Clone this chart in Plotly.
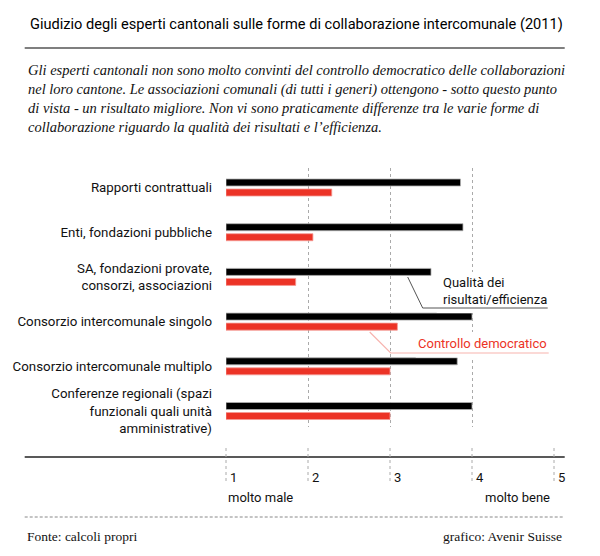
import plotly.graph_objects as go

categories = [
    "Rapporti contrattuali",
    "Enti, fondazioni pubbliche",
    "SA, fondazioni provate,<br>consorzi, associazioni",
    "Consorzio intercomunale singolo",
    "Consorzio intercomunale multiplo",
    "Conferenze regionali (spazi<br>funzionali quali unità<br>amministrative)",
]
qualita = [3.86, 3.89, 3.50, 4.00, 3.82, 4.00]
controllo = [2.29, 2.06, 1.85, 3.09, 3.00, 3.00]
tick_vals = [1, 2, 3, 4, 5]
tick_text = ["1", "2", "3", "4", "5"]

W, H = 600, 556
L, R, T, B = 226.3, 45.7, 168, 129
XMIN, XMAX = 1, 5

COND = "Roboto, Liberation Sans, sans-serif"
SERIF = "Liberation Serif, DejaVu Serif, serif"
BLACK = "#000000"
RED = "#ec3326"

def px(xp):
    return (xp - L) / (W - L - R)

def py(yp):
    return (H - B - yp) / (H - T - B)

def vx(v):
    return (v - XMIN) / (XMAX - XMIN)

idx = list(range(len(categories)))
fig = go.Figure()
fig.add_trace(go.Bar(
    y=idx, x=[v - XMIN for v in qualita], base=XMIN, orientation="h",
    width=0.157, offset=-0.19, name="Qualità dei risultati/efficienza",
    marker=dict(color=BLACK, line=dict(color="#b0b0b0", width=0.8)),
))
fig.add_trace(go.Bar(
    y=idx, x=[v - XMIN for v in controllo], base=XMIN, orientation="h",
    width=0.157, offset=0.034, name="Controllo democratico",
    marker=dict(color=RED, line=dict(color="#f59a94", width=0.8)),
))

shapes = []
shapes.append(dict(type="line", xref="paper", yref="paper", x0=px(25), x1=px(565),
                   y0=py(48), y1=py(48), line=dict(color="#555555", width=1.5)))
shapes.append(dict(type="line", xref="paper", yref="paper", x0=px(25), x1=px(565),
                   y0=py(457), y1=py(457), line=dict(color="#222222", width=1.5)))
shapes.append(dict(type="line", xref="paper", yref="paper", x0=px(25), x1=px(565),
                   y0=py(517), y1=py(517), line=dict(color="#888888", width=1, dash="3px,2px")))
for v in tick_vals:
    shapes.append(dict(type="line", xref="paper", yref="paper", x0=vx(v), x1=vx(v),
                       y0=py(448), y1=py(482), line=dict(color="#aaaaaa", width=1, dash="3px,3px")))
# white boxes behind the legend labels (mask gridlines)
shapes.append(dict(type="rect", xref="paper", yref="paper", x0=px(437), x1=px(558),
                   y0=py(313), y1=py(272), fillcolor="white", line=dict(width=0)))
shapes.append(dict(type="rect", xref="paper", yref="paper", x0=px(416), x1=px(558),
                   y0=py(357.5), y1=py(332), fillcolor="white", line=dict(width=0)))
shapes.append(dict(type="path", xref="paper", yref="paper",
                   path=f"M {px(408)} {py(277)} L {px(423)} {py(308)} L {px(548)} {py(308)}",
                   line=dict(color="#555555", width=1)))
shapes.append(dict(type="path", xref="paper", yref="paper",
                   path=f"M {px(370)} {py(332)} L {px(391)} {py(353)} L {px(549)} {py(353)}",
                   line=dict(color="#f7b3ae", width=1.2)))

ann = []
ann.append(dict(text="Giudizio degli esperti cantonali sulle forme di collaborazione intercomunale (2011)",
                xref="paper", yref="paper", x=px(28), y=py(24), xanchor="left", yanchor="middle",
                showarrow=False, font=dict(family=COND, size=14.6, color="#000")))
ann.append(dict(text=("<i>Gli esperti cantonali non sono molto convinti del controllo democratico delle collaborazioni<br>"
                      "nel loro cantone. Le associazioni comunali (di tutti i generi) ottengono - sotto questo punto<br>"
                      "di vista - un risultato migliore. Non vi sono praticamente differenze tra le varie forme di<br>"
                      "collaborazione riguardo la qualità dei risultati e l’efficienza.</i>"),
                xref="paper", yref="paper", x=px(26), y=py(60), xanchor="left", yanchor="top", align="left",
                showarrow=False, font=dict(family=SERIF, size=14.5, color="#111"),
                ))
for v, t in zip(tick_vals, tick_text):
    ann.append(dict(text=t, xref="paper", yref="paper", x=vx(v), y=py(477), xanchor="left",
                    yanchor="middle", xshift=2, showarrow=False,
                    font=dict(family=COND, size=13, color="#111")))
ann.append(dict(text="molto male", xref="paper", yref="paper", x=vx(1), y=py(497), xanchor="left",
                yanchor="middle", showarrow=False, font=dict(family=COND, size=13, color="#111")))
ann.append(dict(text="molto bene", xref="paper", yref="paper", x=px(552), y=py(497), xanchor="right",
                yanchor="middle", showarrow=False, font=dict(family=COND, size=13, color="#111")))
ann.append(dict(text="Qualità dei<br>risultati/efficienza", xref="paper", yref="paper", x=px(441),
                y=py(291), xanchor="left", yanchor="middle", align="left", showarrow=False,
                font=dict(family=COND, size=13, color="#111")))
ann.append(dict(text="Controllo democratico", xref="paper", yref="paper", x=px(549),
                y=py(343), xanchor="right", yanchor="middle", showarrow=False,
                font=dict(family=COND, size=13, color=RED)))
ann.append(dict(text="Fonte: calcoli propri", xref="paper", yref="paper", x=px(25), y=py(536),
                xanchor="left", yanchor="middle", showarrow=False,
                font=dict(family=SERIF, size=13.5, color="#111")))
ann.append(dict(text="grafico: Avenir Suisse", xref="paper", yref="paper", x=px(564), y=py(536),
                xanchor="right", yanchor="middle", showarrow=False,
                font=dict(family=SERIF, size=13.5, color="#111")))

fig.update_layout(
    width=W, height=H, margin=dict(l=L, r=R, t=T, b=B, pad=0, autoexpand=False),
    paper_bgcolor="white", plot_bgcolor="white",
    showlegend=False, barmode="overlay",
    shapes=shapes, annotations=ann,
    xaxis=dict(range=[XMIN, XMAX], tickvals=tick_vals, showticklabels=False, automargin=False,
               showgrid=True, gridcolor="#aaaaaa", gridwidth=1, griddash="3px,3px",
               zeroline=False, showline=False, ticks=""),
    yaxis=dict(range=[5.358, -0.436], tickvals=idx, ticktext=categories, automargin=False,
               showgrid=False, zeroline=False, showline=False, ticks="",
               ticklabelstandoff=13,
               tickfont=dict(family=COND, size=13.3, color="#111")),
)
fig.write_html("out.html", config={"displayModeBar": False},
               post_script="document.body.style.margin='0';document.body.style.overflow='hidden';")
